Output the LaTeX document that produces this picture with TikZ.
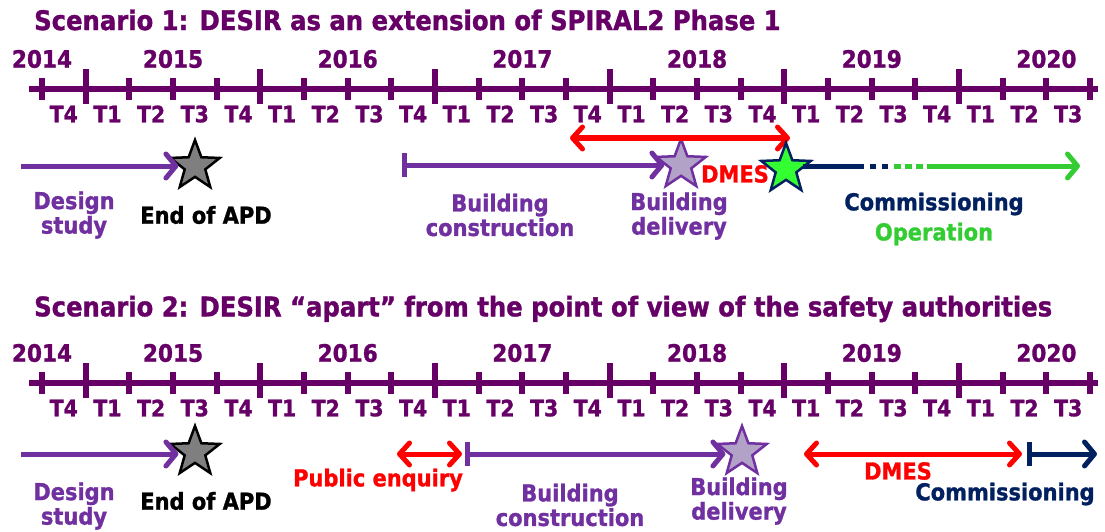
\documentclass[tikz,border=0pt]{standalone}
\usepackage{fontspec}
\setmainfont{DejaVu Sans}[BoldFeatures={FakeBold=1.2, FakeStretch=0.9}]
\usetikzlibrary{arrows.meta,shapes.geometric,positioning}
\definecolor{plum}{HTML}{660066}
\definecolor{violetlbl}{HTML}{7030A0}
\definecolor{navylbl}{HTML}{002060}
\definecolor{redlbl}{HTML}{FF0000}
\definecolor{greenlbl}{HTML}{33CC33}
\definecolor{lilac}{HTML}{B3A2C7}
\definecolor{greystar}{HTML}{7F7F7F}
\definecolor{limestar}{HTML}{33FF33}

\begin{document}
\begin{tikzpicture}[x=1pt, y=-1pt,
  title/.style={anchor=west, inner sep=0pt, text=plum,
                font=\bfseries\fontsize{27}{30}\selectfont},
  yearlbl/.style={text=plum, font=\bfseries\fontsize{24}{26}\selectfont},
  qlbl/.style={text=plum, font=\bfseries\fontsize{22.7}{25}\selectfont},
  lbl/.style={align=center, inner sep=1pt,
              font=\bfseries\fontsize{23.3}{24.5}\selectfont},
  axisline/.style={plum, line width=6pt},
  tickmark/.style={plum, line width=6pt},
  phase/.style={line width=5pt, -{Straight Barb[length=10pt,width=24pt,round]}},
  build/.style={line width=5pt,
                {Bar[width=24pt]}-{Straight Barb[length=10pt,width=24pt,round]}},
  span/.style={line width=5pt, {Straight Barb[length=10pt,width=22pt,round]}-{Straight Barb[length=10pt,width=22pt,round]}},
  milestone/.style={star, star points=5, star point ratio=2.4, minimum size=52pt,
                    inner sep=0pt, line width=2.5pt, draw}
]
  \useasboundingbox (0,0) rectangle (1105,532);

  % Titles
  \node[title] (title1) at (34,20) {Scenario 1: DESIR as an extension of SPIRAL2 Phase 1};
  \node[title] (title2) at (34,309) {Scenario 2: DESIR “apart” from the point of view of the safety authorities};

  % Time axes
  \foreach \s/\ay in {1/89, 2/383} {
    \coordinate (axs\s) at (29,\ay);
    \coordinate (axe\s) at (1098,\ay);
    \draw[axisline] (axs\s) -- (axe\s);
    \foreach \k in {0,...,24} {
      \pgfmathsetmacro{\tx}{42+43.67*\k}
      \pgfmathtruncatemacro{\big}{mod(\k,4)==1}
      \ifnum\big=1
        \draw[tickmark] (\tx,\ay-20) -- (\tx,\ay+15);
      \else
        \draw[tickmark] (\tx,\ay-11) -- (\tx,\ay+11);
      \fi
    }
    \foreach \i in {0,...,23} {
      \pgfmathtruncatemacro{\q}{mod(\i+3,4)+1}
      \node[qlbl] (q\s-\i) at ({63.8+43.67*\i},\ay+25) {T\q};
    }
    \node[yearlbl] (yr\s-2014) at (42,\ay-30) {2014};
    \foreach \yr [count=\n] in {2015,...,2020} {
      \node[yearlbl] (yr\s-\yr) at ({42+43.67*(4*\n-1)},\ay-30) {\yr};
    }
  }

  % Scenario 1
  \coordinate (ds1) at (21,166);
  \node[milestone, fill=greystar] (apd1) at (195,166) {};
  \draw[phase, violetlbl] (ds1) -- (ds1 -| apd1.west);
  \node[lbl, text=violetlbl] (dsl1) at (74,215) {Design\\study};
  \node[lbl] (apdl1) at (206,215) {End of APD};

  \coordinate (bc1) at (402,165);
  \node[milestone, fill=lilac, draw=violetlbl] (bd1) at (681,165) {};
  \draw[build, violetlbl] (bc1) -- (bc1 -| bd1.west);
  \node[lbl, text=violetlbl] (bcl1) at (500,215) {Building\\construction};
  \node[lbl, text=violetlbl] (bdl1) at (679,216) {Building\\delivery};

  \coordinate (dm1a) at (570,138);
  \coordinate (dm1b) at (790,138);
  \draw[span, redlbl] (dm1a) -- (dm1b);
  \node[lbl, text=redlbl] (dmes1) at (735,174) {DMES};

  \node[milestone, fill=limestar, draw=navylbl] (op1) at (786,169) {};
  \coordinate (cm1a) at (858,166);
  \coordinate (cm1b) at (894,166);
  \coordinate (cm1c) at (931,166);
  \coordinate (cm1d) at (1080,166);
  \draw[navylbl, line width=5pt] (cm1a -| op1.east) -- (cm1a);
  \draw[navylbl, line width=5pt, dash pattern=on 6pt off 6pt] (cm1a) -- (cm1b);
  \draw[greenlbl, line width=5pt, dash pattern=on 7pt off 4pt] (cm1b) -- (cm1c);
  \draw[phase, greenlbl] (cm1c) -- (cm1d);
  \node[lbl, text=navylbl] (cml1) at (934,204) {Commissioning};
  \node[lbl, text=greenlbl] (opl1) at (934,234) {Operation};

  % Scenario 2
  \coordinate (ds2) at (21,454);
  \node[milestone, fill=greystar] (apd2) at (195,452) {};
  \draw[phase, violetlbl] (ds2) -- (ds2 -| apd2.west);
  \node[lbl, text=violetlbl] (dsl2) at (74,506) {Design\\study};
  \node[lbl] (apdl2) at (206,501) {End of APD};

  \coordinate (pe2a) at (397,454);
  \coordinate (pe2b) at (462,454);
  \draw[span, redlbl] (pe2a) -- (pe2b);
  \node[lbl, text=redlbl] (pel2) at (378,480) {Public enquiry};

  \coordinate (bc2) at (465,454);
  \node[milestone, fill=lilac, draw=violetlbl] (bd2) at (742,452) {};
  \draw[build, violetlbl] (bc2) -- (bc2 -| bd2.west);
  \node[lbl, text=violetlbl] (bcl2) at (570,505) {Building\\construction};
  \node[lbl, text=violetlbl] (bdl2) at (739,501) {Building\\delivery};

  \coordinate (dm2a) at (804,454);
  \coordinate (dm2b) at (1022,454);
  \draw[span, redlbl] (dm2a) -- (dm2b);
  \node[lbl, text=redlbl] (dmes2) at (898,471) {DMES};

  \coordinate (cm2a) at (1027,454);
  \coordinate (cm2b) at (1097,454);
  \draw[build, navylbl] (cm2a) -- (cm2b);
  \node[lbl, text=navylbl] (cml2) at (1005,494) {Commissioning};
\end{tikzpicture}
\end{document}
